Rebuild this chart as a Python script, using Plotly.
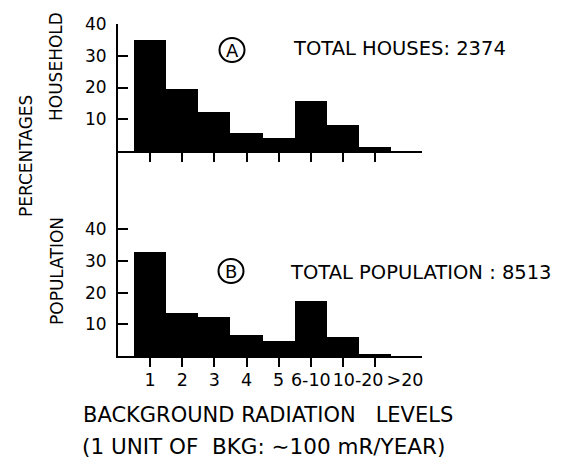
import plotly.graph_objects as go

# ---- data ----
categories = ["1", "2", "3", "4", "5", "6-10", "10-20", ">20"]
household_pct = [35.0, 19.5, 12.3, 5.6, 4.2, 15.9, 8.3, 1.3]
population_pct = [32.7, 13.5, 12.3, 6.5, 4.7, 17.3, 5.9, 0.6]
y_tick_vals = [10, 20, 30, 40]
y_tick_text = ["10", "20", "30", "40"]

W, H = 561, 458
FONT = "DejaVu Sans"


def fx(p):
    return p / W


def fy(p):
    return 1 - p / H


xpos = list(range(1, len(categories) + 1))
# label anchors (the reference sets the crowded last labels a bit to the right)
label_pos = [1, 2, 3, 4, 5, 6, 7.47, 8.93]

x_range = [0, 9.46]
x_domain = [fx(118), fx(422)]

fig = go.Figure()
fig.add_trace(go.Bar(x=xpos, y=household_pct, xaxis="x", yaxis="y", width=1.0,
                     marker=dict(color="black", line=dict(width=0)),
                     hoverinfo="skip", showlegend=False))
fig.add_trace(go.Bar(x=xpos, y=population_pct, xaxis="x2", yaxis="y2", width=1.0,
                     marker=dict(color="black", line=dict(width=0)),
                     hoverinfo="skip", showlegend=False))
# invisible carrier for the label axis
fig.add_trace(go.Scatter(x=label_pos, y=[0] * len(label_pos), xaxis="x3", yaxis="y2",
                         mode="markers", marker=dict(opacity=0), hoverinfo="skip",
                         showlegend=False))

axis_common = dict(showgrid=False, zeroline=False, showline=True, linecolor="black",
                   linewidth=2, tickcolor="black", tickwidth=2, fixedrange=True,
                   automargin=False)

fig.update_layout(
    template="none",
    width=W, height=H,
    margin=dict(l=0, r=0, t=0, b=0, pad=0),
    paper_bgcolor="white", plot_bgcolor="white",
    bargap=0,
    font=dict(family=FONT, color="black"),
    xaxis=dict(domain=x_domain, range=x_range, anchor="y", ticks="outside", ticklen=9,
               tickvals=xpos, showticklabels=False, **axis_common),
    yaxis=dict(domain=[fy(151), fy(24)], range=[0, 40], anchor="x", ticks="inside",
               ticklen=10, tickvals=y_tick_vals, ticktext=y_tick_text,
               tickfont=dict(size=17, family=FONT), ticklabelstandoff=6, **axis_common),
    xaxis2=dict(domain=x_domain, range=x_range, anchor="y2", ticks="outside", ticklen=9,
                tickvals=xpos, showticklabels=False, **axis_common),
    yaxis2=dict(domain=[fy(356), fy(151)], range=[0, 40 * 205 / 126.7], anchor="x2",
                ticks="inside", ticklen=10, tickvals=y_tick_vals, ticktext=y_tick_text,
                tickfont=dict(size=17, family=FONT), ticklabelstandoff=6, **axis_common),
    xaxis3=dict(domain=x_domain, range=x_range, anchor="y2", overlaying="x2",
                showline=False, showgrid=False, zeroline=False, ticks="",
                tickvals=label_pos, ticktext=categories, tickangle=0,
                tickfont=dict(size=17.5, family=FONT), ticklabelstandoff=11,
                fixedrange=True, automargin=False),
)

ann = []


def add_text(text, x, y, size, angle=0):
    ann.append(dict(text=text, x=fx(x), y=fy(y), xref="paper", yref="paper",
                    showarrow=False, textangle=angle, xanchor="center", yanchor="middle",
                    font=dict(size=size, family=FONT, color="black")))


NB = "\u00a0"
add_text("PERCENTAGES", 26, 156, 17, -90)
add_text("HOUSEHOLD", 56, 67, 17, -90)
add_text("POPULATION", 57, 271, 17, -90)
add_text("TOTAL HOUSES: 2374", 399, 48, 19.5)
add_text("TOTAL POPULATION : 8513", 421, 272, 19.5)
add_text("A", 232, 50, 18)
add_text("B", 231, 271, 18)
add_text("BACKGROUND RADIATION" + NB + NB + " LEVELS", 268, 415, 21)
add_text("(1 UNIT OF" + NB + " BKG: \u223c100 mR/YEAR)", 263, 446, 21.5)
fig.update_layout(annotations=ann)

shapes = []
for cx, cy in [(232, 50), (231, 271)]:
    shapes.append(dict(type="circle", xref="paper", yref="paper",
                       x0=fx(cx - 12.5), x1=fx(cx + 12.5), y0=fy(cy + 12), y1=fy(cy - 12),
                       line=dict(color="black", width=2)))
fig.update_layout(shapes=shapes)

fig.write_html("out.html", config={"displayModeBar": False},
               post_script="document.body.style.margin='0';document.body.style.overflow='hidden';")
